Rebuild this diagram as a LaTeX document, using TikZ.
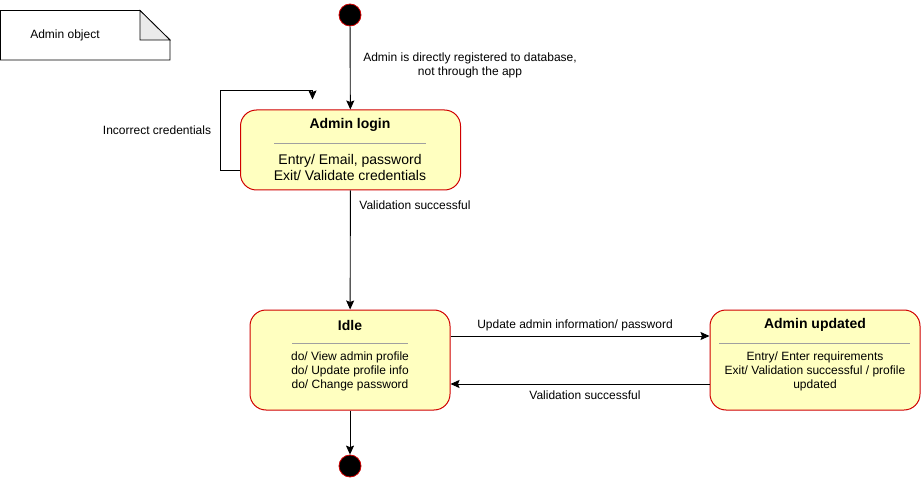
\documentclass[tikz,border=0pt]{standalone}
\usepackage{fontspec}
\setmainfont{Liberation Sans}
\usetikzlibrary{arrows.meta}
\definecolor{stfill}{HTML}{FFFFC0}
\definecolor{ststroke}{HTML}{D00000}
\definecolor{foldgray}{HTML}{EBEBEB}
\definecolor{sepgray}{HTML}{A0A0A0}
\begin{document}
\begin{tikzpicture}[x=1pt,y=-1pt,
  statebox/.style={draw=ststroke, fill=stfill, rounded corners=16pt, line width=1pt, inner sep=0pt},
  dot/.style={circle, fill=black, draw=ststroke, line width=0.8pt, minimum size=22pt, inner sep=0pt},
  tip/.style={-{Stealth[length=9pt,width=8pt,inset=1.5pt]}, line width=0.9pt},
  lbl/.style={font=\fontsize{12}{14}\selectfont, align=center, inner sep=0pt},
  ttl/.style={font=\bfseries\fontsize{14}{15}\selectfont, inner sep=0pt},
  bodyL/.style={font=\fontsize{14}{16}\selectfont, align=center, inner sep=0pt},
  bodyS/.style={font=\fontsize{12}{14}\selectfont, align=center, inner sep=0pt},
  sep/.style={draw=sepgray, line width=0.8pt}
]
\useasboundingbox (0,0) rectangle (921,481);

% note
\draw[line width=0.8pt, fill=white] (0.5,10.5) -- (140,10.5) -- (170,40) -- (170,60) -- (0.5,60) -- cycle;
\draw[line width=0.8pt, fill=foldgray] (140,10.5) -- (140,40) -- (170,40) -- cycle;
\node[lbl] (note) at (65,35) {Admin object};

% states
\node[dot] (init) at (350,15) {};
\node[statebox, minimum width=220pt, minimum height=80pt] (login) at (350.5,150) {};
\node[ttl] (logint) at (350,125) {Admin login};
\draw[sep] (274,143) -- (426,143);
\node[bodyL] (loginb) at (350,167) {Entry/ Email, password\\Exit/ Validate credentials};

\node[statebox, minimum width=200pt, minimum height=100pt] (idle) at (350,360) {};
\node[ttl] (idlet) at (350,325) {Idle};
\draw[sep] (292,343) -- (408,343);
\node[bodyS] (idleb) at (350,371) {do/ View admin profile\\do/ Update profile info\\do/ Change password};

\node[statebox, minimum width=210pt, minimum height=100pt] (upd) at (815,360) {};
\node[ttl] (updt) at (815,325) {Admin updated};
\draw[sep] (719,343) -- (910,343);
\node[bodyS] (updb) at (815,371) {Entry/ Enter requirements\\Exit/ Validation successful / profile\\updated};

\node[dot] (final) at (350,466) {};

% connectors
\draw[tip] (init) -- (login);
\node[lbl] (l1) at (470,65) {Admin is directly registered to database,\\not through the app};

\coordinate (lp) at (220,90);
\draw[tip] ([yshift=-20pt]login.west) -| (lp) -| ([xshift=-38pt,yshift=10pt]login.north);
\node[lbl] (l2) at (157,130) {Incorrect credentials};

\draw[tip] (login) -- (idle);
\node[lbl] (l3) at (415,205) {Validation successful};

\draw[tip] ([yshift=24pt]idle.east) -- ([yshift=24pt]upd.west);
\node[lbl] (l4) at (575,325) {Update admin information/ password};

\draw[tip] ([yshift=-24pt]upd.west) -- ([yshift=-24pt]idle.east);
\node[lbl] (l5) at (585,395) {Validation successful};

\draw[tip] (idle) -- (final);
\end{tikzpicture}
\end{document}
